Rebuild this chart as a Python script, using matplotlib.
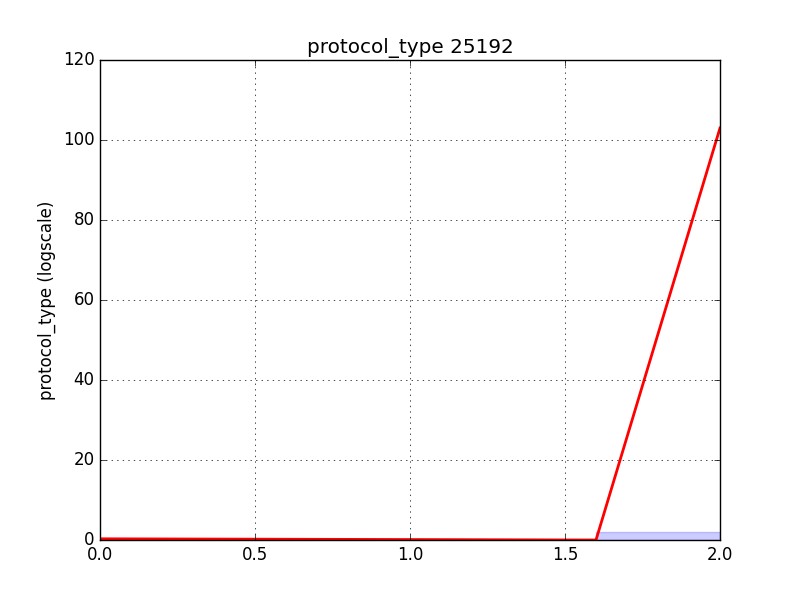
import matplotlib
matplotlib.use("Agg")
import matplotlib.pyplot as plt

plt.style.use("classic")

# values
line_x = [0.0, 1.6, 2.0]
line_y = [0.3, 0.0, 103.0]
band_x = [1.6, 2.0]
band_y = [2.0, 2.0]

fig = plt.figure(figsize=(8, 6), dpi=100)
ax = fig.add_subplot(111)

ax.fill_between(band_x, 0, band_y, color="blue", alpha=0.2)
ax.plot(line_x, line_y, color="red", linewidth=2)

ax.set_title("protocol_type 25192")
ax.set_ylabel("protocol_type (logscale)")
ax.set_xlim(0, 2)
ax.set_ylim(0, 120)
ax.grid(True)

fig.savefig("out.png")
